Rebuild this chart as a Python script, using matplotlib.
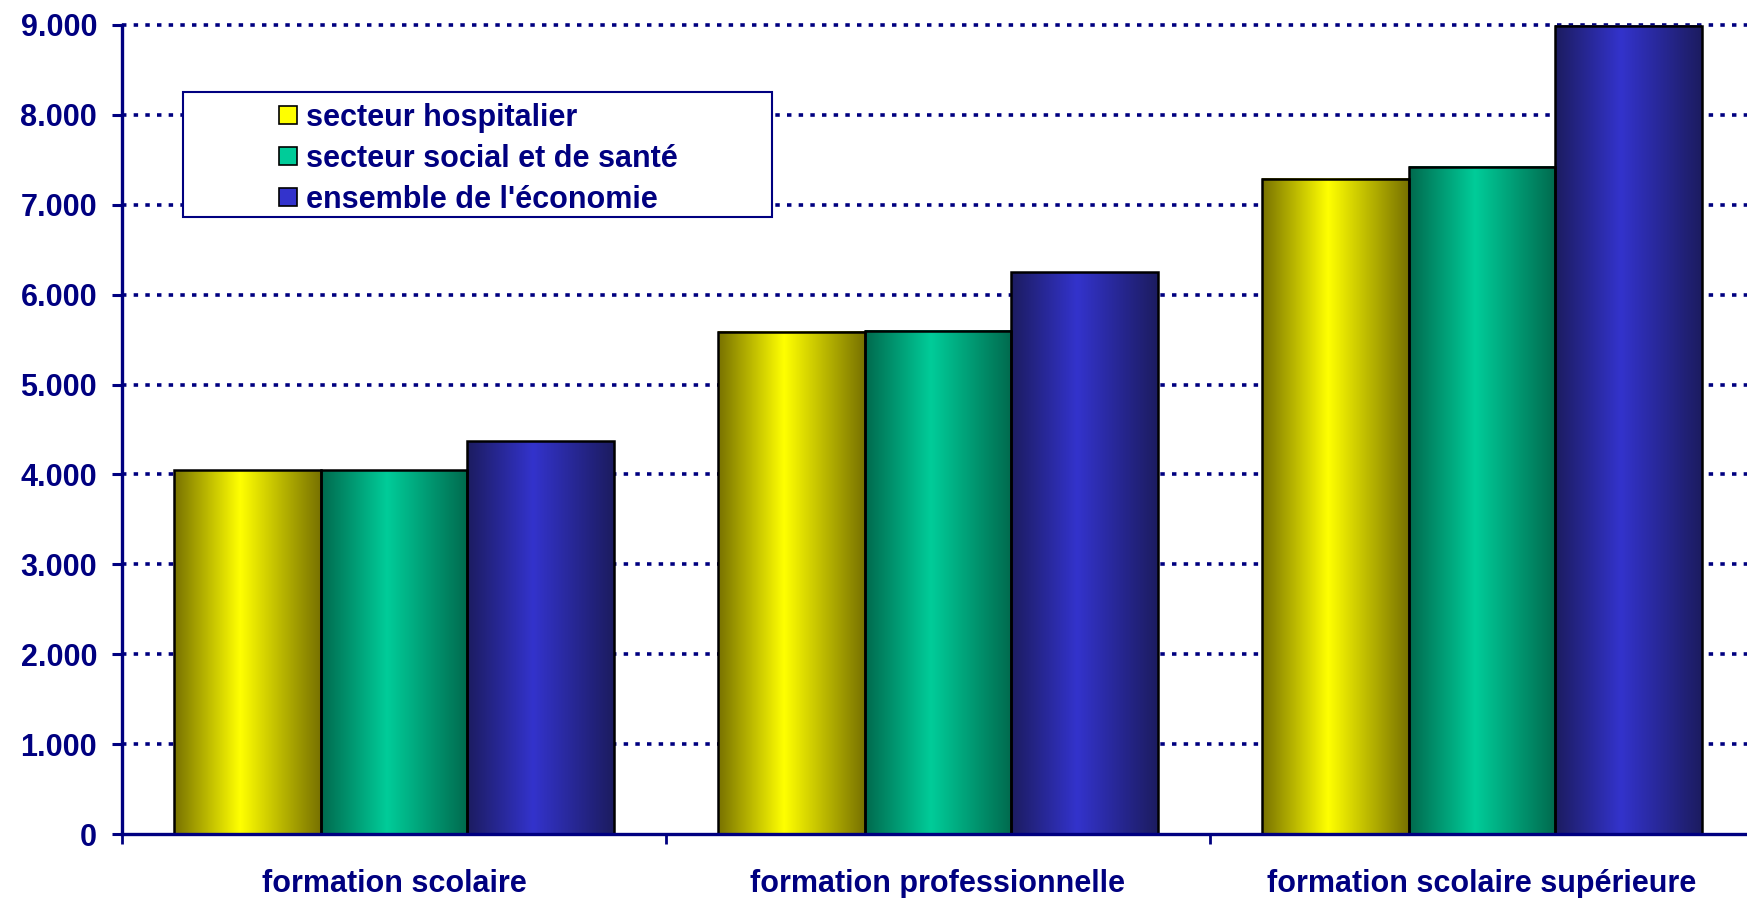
import numpy as np
import matplotlib
matplotlib.use("Agg")
import matplotlib.pyplot as plt
from matplotlib.patches import Patch, Rectangle
from matplotlib.legend_handler import HandlerBase
from matplotlib.ticker import FuncFormatter, FixedLocator
from matplotlib.colors import LinearSegmentedColormap

plt.rcParams['font.family'] = ['Liberation Sans', 'DejaVu Sans']
plt.rcParams['font.weight'] = 'bold'
plt.rcParams['lines.scale_dashes'] = False

NAVY = '#000080'

# data
categories = ["formation scolaire", "formation professionnelle", "formation scolaire supérieure"]
series_names = ["secteur hospitalier", "secteur social et de santé", "ensemble de l'économie"]
hospitalier = [4045, 5585, 7290]
social_sante = [4045, 5600, 7425]
economie = [4370, 6250, 8990]
series = [hospitalier, social_sante, economie]

# gradient colours: (edge, centre)
grad = [('#787200', '#ffff00'), ('#006a4e', '#00cc99'), ('#1c1c60', '#3333cc')]

fig = plt.figure(figsize=(17.47, 8.98), dpi=100)
ax = fig.add_axes([122 / 1747, 64 / 898, 1632 / 1747, 809 / 898])

x = np.arange(len(categories))
w = 0.27
t = np.linspace(0, 1, 200)
prof = np.where(t < 0.45, t / 0.45, (1 - t) / 0.55)
for i, vals in enumerate(series):
    bars = ax.bar(x + (i - 1) * w, vals, w, facecolor='none', edgecolor='black',
                  linewidth=1.8, zorder=3)
    cmap = LinearSegmentedColormap.from_list('g%d' % i, grad[i])
    for b in bars:
        bx, by = b.get_x(), b.get_y()
        ax.imshow(prof[None, :], cmap=cmap, vmin=0, vmax=1, aspect='auto',
                  extent=[bx, bx + b.get_width(), by, by + b.get_height()],
                  interpolation='bilinear', zorder=2)

ax.set_xlim(-0.5, 2.5)
ax.set_ylim(0, 9000)

ax.yaxis.set_major_locator(FixedLocator(np.arange(0, 9001, 1000)))
ax.yaxis.set_major_formatter(FuncFormatter(lambda v, p: f"{int(v):,}".replace(',', '.')))
ax.yaxis.grid(True, color=NAVY, linestyle=(0, (3.2, 5.2)), linewidth=2.6)
ax.set_axisbelow(True)
gl = ax.yaxis.get_gridlines()
gl[0].set_visible(False)
for g in gl:
    g.set_clip_on(False)

ax.set_xticks([-0.5, 0.5, 1.5, 2.5])
ax.set_xticklabels([])
ax.set_xticks(x, minor=True)
ax.set_xticklabels(categories, minor=True)
ax.tick_params(axis='x', which='major', direction='out', length=7, width=2, color=NAVY)
ax.tick_params(axis='x', which='minor', length=0, pad=25, labelsize=22, labelcolor=NAVY)
ax.tick_params(axis='y', direction='out', length=7, width=2.2, color=NAVY,
               pad=11, labelsize=22, labelcolor=NAVY)

for s in ['top', 'right']:
    ax.spines[s].set_visible(False)
for s in ['left', 'bottom']:
    ax.spines[s].set_color(NAVY)
    ax.spines[s].set_linewidth(2.4)
    ax.spines[s].set_zorder(4)


class SquareHandler(HandlerBase):
    def create_artists(self, legend, orig_handle, xdescent, ydescent, width, height,
                       fontsize, trans):
        s = 13
        r = Rectangle((-xdescent + width - s, -ydescent + (height - s) / 2), s, s,
                      facecolor=orig_handle.get_facecolor(), edgecolor='black',
                      linewidth=1.2, transform=trans)
        return [r]


handles = [Patch(facecolor=g[1]) for g in grad]
leg = fig.legend(handles, series_names, loc='upper left',
                 bbox_to_anchor=(200 / 1747, 1 - 103 / 898), borderpad=0, borderaxespad=0,
                 frameon=False, fontsize=22, labelcolor=NAVY, handlelength=3.17,
                 handletextpad=0.3, labelspacing=0.36,
                 handler_map={Patch: SquareHandler()})
fig.patches.append(Rectangle((183 / 1747, 1 - 217 / 898), 589 / 1747, 125 / 898,
                             transform=fig.transFigure, facecolor='white',
                             edgecolor=NAVY, linewidth=1.5, zorder=5))
leg.set_zorder(6)

fig.savefig('out.png', dpi=100)
